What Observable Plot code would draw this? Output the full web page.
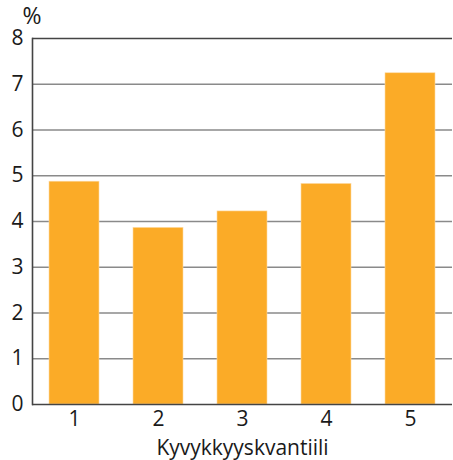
<!DOCTYPE html>
<html>
<head>
<meta charset="utf-8">
<script src="https://cdn.jsdelivr.net/npm/d3@7"></script>
<script src="https://cdn.jsdelivr.net/npm/@observablehq/plot@0.6"></script>
<style>
  html, body { margin: 0; padding: 0; background: #fff; }
  #chart svg { display: block; }
</style>
</head>
<body>
<div id="chart"></div>
<script>
const categories = ["1", "2", "3", "4", "5"];
const values = [4.87, 3.86, 4.22, 4.82, 7.24];
const yTicks = [0, 1, 2, 3, 4, 5, 6, 7, 8];
const gridTicks = [1, 2, 3, 4, 5, 6, 7];
const xTitle = "Kyvykkyyskvantiili";
const yUnit = "%";

const data = categories.map((c, i) => ({ cat: c, value: values[i] }));
const font = "'Open Sans', 'DejaVu Sans', sans-serif";

const chart = Plot.plot({
  width: 453,
  height: 460,
  marginLeft: 32,
  marginRight: 1,
  marginTop: 38,
  marginBottom: 56,
  style: { fontFamily: font, fontSize: "21px", color: "#1a1a1a", background: "#fff" },
  x: { domain: categories, paddingInner: 0.41, paddingOuter: 0.19, label: null },
  y: { domain: [0, 8], label: null },
  marks: [
    Plot.ruleY(gridTicks, { stroke: "#8a8a8a", strokeWidth: 1.3 }),
    Plot.barY(data, { x: "cat", y: "value", fill: "#fbab27", stroke: "#fdd9a0", strokeWidth: 0.6 }),
    Plot.ruleY([8], { stroke: "#444", strokeWidth: 1.6 }),
    Plot.ruleY([0], { stroke: "#444", strokeWidth: 1.6 }),
    Plot.frame({ anchor: "left", stroke: "#444", strokeWidth: 1.6 }),
    Plot.axisY(yTicks, { tickSize: 0, tickPadding: 9, fontSize: 21, label: null }),
    Plot.axisX({ tickSize: 0, tickPadding: 7, fontSize: 21, label: null }),
    Plot.text([xTitle], { frameAnchor: "bottom", dy: 50, fontSize: 21, fill: "#1a1a1a" }),
    Plot.text([yUnit], { frameAnchor: "top-left", dy: -31, dx: -0.5, fontSize: 23, fill: "#1a1a1a", textAnchor: "middle" })
  ]
});
document.getElementById("chart").appendChild(chart);
</script>
</body>
</html>
